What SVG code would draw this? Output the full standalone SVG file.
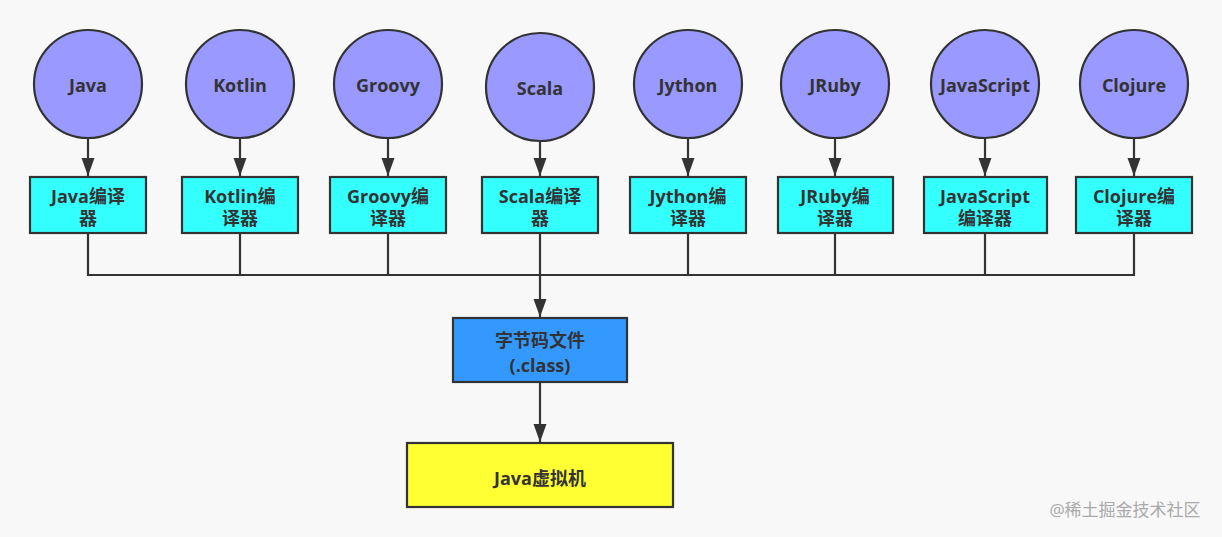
<svg xmlns="http://www.w3.org/2000/svg" width="1222" height="537" viewBox="0 0 1222 537">
<defs>
<marker id="arr" markerUnits="userSpaceOnUse" markerWidth="20" markerHeight="16" viewBox="0 0 20 16" refX="18" refY="8" orient="auto">
<path d="M0,1.5 L18,8 L0,14.5 Z" fill="#333"/>
</marker>
<style>
.bg{fill:#f8f8f8}
.lang{fill:#9999ff;stroke:#333;stroke-width:2.2}
.comp{fill:#33ffff;stroke:#333;stroke-width:2.2}
.cls{fill:#3399ff;stroke:#333;stroke-width:2.2}
.jvm{fill:#ffff33;stroke:#333;stroke-width:2.2}
text{font-family:"Open Sans","Noto Sans CJK SC",sans-serif;font-weight:bold;font-size:18px;fill:#333;text-anchor:middle}
.wm{font-weight:normal;fill:#aaaaaa;font-size:17px}
.ln{fill:none;stroke:#333;stroke-width:2.2}
</style>
</defs>
<rect class="bg" x="0" y="0" width="1222" height="537"/>

<g id="connectors">
<path class="ln" d="M88,138 V176" marker-end="url(#arr)"/>
<path class="ln" d="M240,138 V176" marker-end="url(#arr)"/>
<path class="ln" d="M388,138 V176" marker-end="url(#arr)"/>
<path class="ln" d="M540,141 V176" marker-end="url(#arr)"/>
<path class="ln" d="M688,138 V176" marker-end="url(#arr)"/>
<path class="ln" d="M835,138 V176" marker-end="url(#arr)"/>
<path class="ln" d="M985,138 V176" marker-end="url(#arr)"/>
<path class="ln" d="M1134,138 V176" marker-end="url(#arr)"/>
<path class="ln" d="M88,233 V275 H1134 V233"/>
<path class="ln" d="M240,233 V275"/>
<path class="ln" d="M388,233 V275"/>
<path class="ln" d="M688,233 V275"/>
<path class="ln" d="M835,233 V275"/>
<path class="ln" d="M985,233 V275"/>
<path class="ln" d="M540,233 V317" marker-end="url(#arr)"/>
<path class="ln" d="M540,382 V442" marker-end="url(#arr)"/>
</g>

<g id="java"><circle class="lang" cx="88" cy="84" r="54"/><text x="88" y="92">Java</text></g>
<g id="kotlin"><circle class="lang" cx="240" cy="84" r="54"/><text x="240" y="92">Kotlin</text></g>
<g id="groovy"><circle class="lang" cx="388" cy="84" r="54"/><text x="388" y="92">Groovy</text></g>
<g id="scala"><circle class="lang" cx="540" cy="87" r="54"/><text x="540" y="95">Scala</text></g>
<g id="jython"><circle class="lang" cx="688" cy="84" r="54"/><text x="688" y="92">Jython</text></g>
<g id="jruby"><circle class="lang" cx="835" cy="84" r="54"/><text x="835" y="92">JRuby</text></g>
<g id="javascript"><circle class="lang" cx="985" cy="84" r="54"/><text x="985" y="92">JavaScript</text></g>
<g id="clojure"><circle class="lang" cx="1134" cy="84" r="54"/><text x="1134" y="92">Clojure</text></g>

<g id="java-compiler"><rect class="comp" x="30" y="177" width="116" height="56"/><text x="88" y="203">Java编译</text><text x="88" y="225">器</text></g>
<g id="kotlin-compiler"><rect class="comp" x="182" y="177" width="116" height="56"/><text x="240" y="203">Kotlin编</text><text x="240" y="225">译器</text></g>
<g id="groovy-compiler"><rect class="comp" x="330" y="177" width="116" height="56"/><text x="388" y="203">Groovy编</text><text x="388" y="225">译器</text></g>
<g id="scala-compiler"><rect class="comp" x="482" y="177" width="116" height="56"/><text x="540" y="203">Scala编译</text><text x="540" y="225">器</text></g>
<g id="jython-compiler"><rect class="comp" x="630" y="177" width="116" height="56"/><text x="688" y="203">Jython编</text><text x="688" y="225">译器</text></g>
<g id="jruby-compiler"><rect class="comp" x="778" y="177" width="115" height="56"/><text x="835" y="203">JRuby编</text><text x="835" y="225">译器</text></g>
<g id="javascript-compiler"><rect class="comp" x="924" y="177" width="123" height="56"/><text x="985" y="203">JavaScript</text><text x="985" y="225">编译器</text></g>
<g id="clojure-compiler"><rect class="comp" x="1076" y="177" width="116" height="56"/><text x="1134" y="203">Clojure编</text><text x="1134" y="225">译器</text></g>

<g id="bytecode"><rect class="cls" x="453" y="318" width="174" height="64"/><text x="540" y="347">字节码文件</text><text x="540" y="372">(.class)</text></g>
<g id="jvm"><rect class="jvm" x="407" y="443" width="266" height="64"/><text x="540" y="485">Java虚拟机</text></g>

<text class="wm" x="1125" y="516">@稀土掘金技术社区</text>
</svg>
